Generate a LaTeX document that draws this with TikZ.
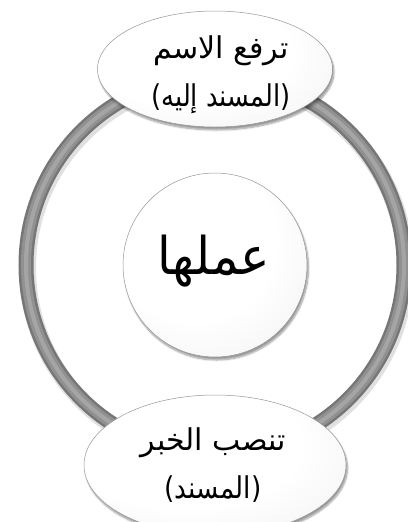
\documentclass[tikz,border=0pt]{standalone}
\usepackage{fontspec}
\newfontfamily\arabicfont[Script=Arabic]{DejaVu Sans}
\TeXXeTstate=1
\usetikzlibrary{shapes.geometric,shadows.blur}
\definecolor{ringdark}{RGB}{118,118,118}
\definecolor{ringmid}{RGB}{145,145,145}
\definecolor{ringlight}{RGB}{165,165,165}
\definecolor{rimgray}{RGB}{150,150,150}
\pgfdeclareradialshading{softball}{\pgfpoint{-10bp}{12bp}}{color(0bp)=(white); color(22bp)=(white); color(36bp)=(gray!9); color(45bp)=(gray!24); color(50bp)=(gray!50)}
\begin{document}
\begin{tikzpicture}[x=1pt,y=-1pt,
  bubble/.style={shading=softball, draw=rimgray, line width=0.5pt,
    blur shadow={shadow xshift=1.5pt, shadow yshift=-3pt, shadow blur steps=8, shadow opacity=40},
    inner sep=0pt},
  lbl/.style={font=\arabicfont\fontsize{30}{48}\selectfont, align=center, text=black, inner sep=0pt}]
\useasboundingbox (0,0) rectangle (407,522);
\coordinate (c) at (215,265);
% ring
\draw[black, opacity=0.12, line width=17pt] ([shift={(1.5,3)}]c) circle[radius=189pt];
\draw[ringdark, line width=15pt] (c) circle[radius=189pt];
\draw[ringmid, line width=10pt] (c) circle[radius=189pt];
\draw[ringlight, line width=4pt] (c) circle[radius=189pt];
% centre
\node[circle, bubble, minimum size=184pt] (mid) at (c) {};
\node[font=\arabicfont\fontsize{52}{60}\selectfont, inner sep=0pt] (midtext) at ([shift={(-1,-4)}]mid.center) {\scalebox{0.95}[1]{\beginR عملها\endR}};
% top
\node[ellipse, bubble, minimum width=235pt, minimum height=116pt] (top) at (215,69) {};
\node[lbl] (toptext) at ([shift={(6,6)}]top.center) {\beginR ترفع الاسم\endR\\\scalebox{0.86}[1]{\beginR (المسند إليه)\endR}};
% bottom
\node[ellipse, bubble, minimum width=262pt, minimum height=140pt] (bot) at (215,465) {};
\node[lbl] (bottext) at ([shift={(-2,0)}]bot.center) {\beginR تنصب الخبر\endR\\\scalebox{0.88}[1]{\beginR (المسند)\endR}};
\end{tikzpicture}
\end{document}
